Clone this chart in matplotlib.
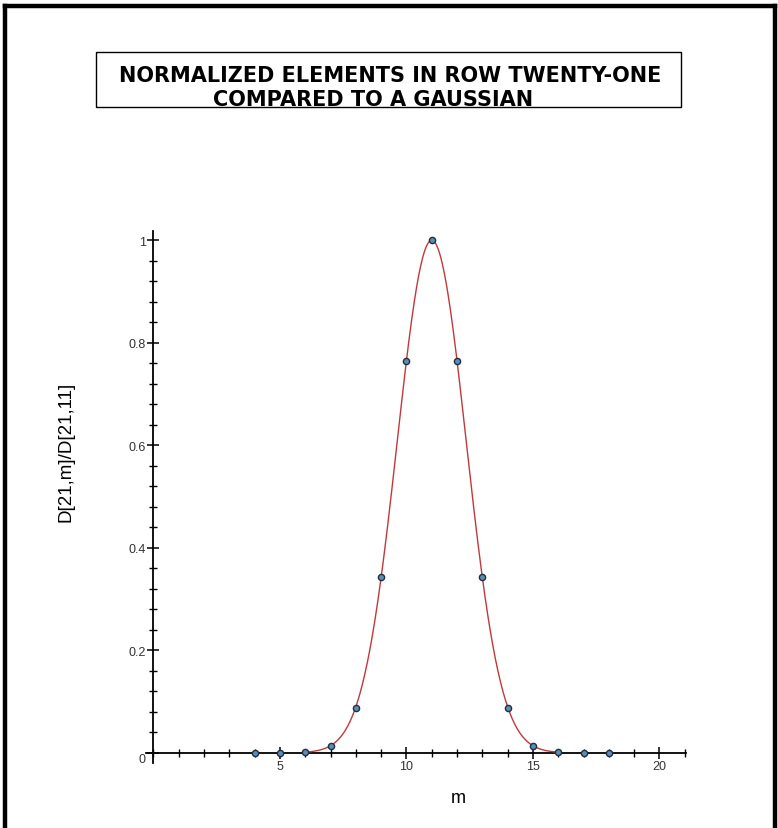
import numpy as np
import matplotlib
matplotlib.use('Agg')
import matplotlib.pyplot as plt
from matplotlib.lines import Line2D
from matplotlib.patches import Rectangle
from matplotlib.ticker import MultipleLocator

plt.rcParams['font.family'] = ['Liberation Sans', 'DejaVu Sans']

# normalized elements of row 21
m_vals = [4, 5, 6, 7, 8, 9, 10, 11, 12, 13, 14, 15, 16, 17, 18]
ratio = [0.0, 0.0, 0.001, 0.013, 0.088, 0.342, 0.765, 1.0,
         0.765, 0.342, 0.088, 0.013, 0.001, 0.0, 0.0]

# gaussian it is compared to (centre and width)
g_centre = 11.0
g_sigma = 1.366
g_range = (6.0, 16.0)

W, H = 778, 829
fig = plt.figure(figsize=(W / 100, H / 100), dpi=100)

def px(x, y):
    return x / W, 1 - y / H

# outer frame (left, top, right edges)
for (x0, y0), (x1, y1) in [((5, 7), (5, 840)), ((5, 7), (775, 7)), ((775, 7), (775, 840))]:
    a, b = px(x0, y0)
    c, d = px(x1, y1)
    fig.add_artist(Line2D([a, c], [b, d], color='black', lw=3.2, transform=fig.transFigure))

# title box
bx0, by0 = px(96, 108)
bx1, by1 = px(681, 53)
fig.add_artist(Rectangle((bx0, by0), bx1 - bx0, by1 - by0, fill=False, ec='black', lw=1.0,
                         transform=fig.transFigure))
tx, ty = px(390, 76)
fig.text(tx, ty, 'NORMALIZED ELEMENTS IN ROW TWENTY-ONE', ha='center', va='center',
         fontsize=15, fontweight='bold', family='DejaVu Sans')
tx, ty = px(373, 100)
fig.text(tx, ty, 'COMPARED TO A GAUSSIAN', ha='center', va='center',
         fontsize=15, fontweight='bold', family='DejaVu Sans')

ax = fig.add_axes([0.1875, 0.0784, 0.6942, 0.6417])
ax.set_xlim(-0.3, 21.05)
ax.set_ylim(-0.02, 1.018)
ax.patch.set_alpha(0)

for s in ['top', 'right']:
    ax.spines[s].set_visible(False)
ax.spines['left'].set_position(('data', 0))
ax.spines['bottom'].set_position(('data', 0))
ax.spines['left'].set_bounds(-0.02, 1.018)
for s in ['left', 'bottom']:
    ax.spines[s].set_linewidth(1.3)

ax.xaxis.set_minor_locator(MultipleLocator(1))
ax.yaxis.set_minor_locator(MultipleLocator(0.04))
ax.set_xticks([5, 10, 15, 20])
ax.set_xticklabels(['5', '10', '15', '20'])
ax.set_yticks([0, 0.2, 0.4, 0.6, 0.8, 1.0])
ax.set_yticklabels(['0', '0.2', '0.4', '0.6', '0.8', '1'])
ax.tick_params(axis='both', which='major', direction='inout', length=9, width=1.1,
               labelsize=9, labelcolor='#333333', pad=1)
ax.tick_params(axis='both', which='minor', direction='inout', length=6, width=1.0)
ax.get_yticklabels()[0].set_va('top')

xs = np.linspace(g_range[0], g_range[1], 400)
ax.plot(xs, np.exp(-(xs - g_centre) ** 2 / (2 * g_sigma ** 2)), color='#c0393b', lw=1.0,
        zorder=3)
ax.scatter(m_vals, ratio, s=20, color='#5b8db5', edgecolor='#1f2f3f', linewidth=1.0,
           zorder=4, clip_on=False)

lx, ly = px(66, 452)
fig.text(lx, ly, 'D[21,m]/D[21,11]', rotation=90, ha='center', va='center', fontsize=13.5)
mx, my = px(458, 799)
fig.text(mx, my, 'm', ha='center', va='center', fontsize=13)

fig.savefig('out.png', dpi=100)
